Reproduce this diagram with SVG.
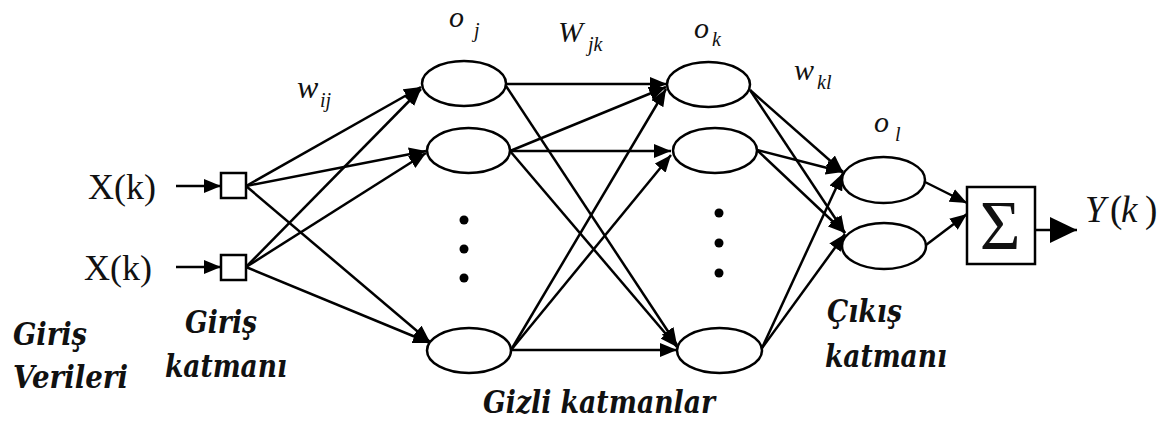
<svg xmlns="http://www.w3.org/2000/svg" width="1164" height="425" viewBox="0 0 1164 425">
<style>
.n{fill:#fff;stroke:#000;stroke-width:2.5}
.c line{stroke:#000;stroke-width:2.5;marker-end:url(#ah)}
.t{font-family:"Liberation Serif","Times New Roman",serif;fill:#111}
.i{font-style:italic}
.bi{font-family:"DejaVu Serif","Liberation Serif",serif;font-style:italic;font-weight:bold;font-size:32px;fill:#111}
.dot{fill:#000}
</style>
<defs>
<marker id="ah" markerUnits="userSpaceOnUse" markerWidth="18" markerHeight="14" refX="17" refY="7" orient="auto">
<path d="M0,0 L17,7 L0,14 z" fill="#000"/>
</marker>
<marker id="big" markerUnits="userSpaceOnUse" markerWidth="28" markerHeight="28" refX="27" refY="13" orient="auto">
<path d="M0,0 L27,13 L0,26 z" fill="#000"/>
</marker>
</defs>
<rect width="1164" height="425" fill="#fff"/>
<g id="connectors" class="c">
<line x1="176" y1="186" x2="221" y2="186"/>
<line x1="176" y1="267" x2="221" y2="267"/>
<line x1="246" y1="186" x2="421" y2="87"/>
<line x1="246" y1="186" x2="426" y2="151"/>
<line x1="246" y1="186" x2="430" y2="342"/>
<line x1="246" y1="267" x2="421" y2="89"/>
<line x1="246" y1="267" x2="426" y2="153"/>
<line x1="246" y1="267" x2="430" y2="343"/>
<line x1="506" y1="84" x2="667" y2="84"/>
<line x1="506" y1="86" x2="677" y2="345"/>
<line x1="510" y1="151" x2="666" y2="87"/>
<line x1="510" y1="151" x2="671" y2="151"/>
<line x1="510" y1="151" x2="677" y2="347"/>
<line x1="511" y1="350" x2="666" y2="89"/>
<line x1="511" y1="350" x2="671" y2="155"/>
<line x1="511" y1="350" x2="677" y2="350"/>
<line x1="750" y1="90" x2="843" y2="172"/>
<line x1="750" y1="90" x2="845" y2="233"/>
<line x1="757" y1="150" x2="843" y2="172"/>
<line x1="757" y1="150" x2="845" y2="233"/>
<line x1="762" y1="348" x2="843" y2="173"/>
<line x1="762" y1="348" x2="845" y2="234"/>
<line x1="925" y1="182" x2="967" y2="203"/>
<line x1="926" y1="245" x2="967" y2="214"/>
<line x1="1032" y1="230" x2="1077" y2="230" style="marker-end:url(#big)"/>
</g>
<g id="in1"><rect class="n" x="221" y="173" width="25" height="25"/></g>
<g id="in2"><rect class="n" x="221" y="255" width="25" height="25"/></g>
<g id="h1a"><ellipse class="n" cx="464" cy="83.5" rx="42" ry="22.5"/></g>
<g id="h1b"><ellipse class="n" cx="468.5" cy="150.5" rx="41.5" ry="22.5"/></g>
<g id="h1c"><ellipse class="n" cx="469" cy="350.5" rx="42" ry="22.5"/></g>
<g id="h1dots"><circle class="dot" cx="464" cy="220" r="4.5"/><circle class="dot" cx="464" cy="249" r="4.5"/><circle class="dot" cx="464" cy="278" r="4.5"/></g>
<g id="h2a"><ellipse class="n" cx="708.5" cy="84.5" rx="41.5" ry="22.5"/></g>
<g id="h2b"><ellipse class="n" cx="715" cy="150.5" rx="42" ry="22.5"/></g>
<g id="h2c"><ellipse class="n" cx="719.5" cy="350.5" rx="42.5" ry="22.5"/></g>
<g id="h2dots"><circle class="dot" cx="719" cy="213" r="4.5"/><circle class="dot" cx="719" cy="243" r="4.5"/><circle class="dot" cx="719" cy="273" r="4.5"/></g>
<g id="o1"><ellipse class="n" cx="883.5" cy="180" rx="41.5" ry="23"/></g>
<g id="o2"><ellipse class="n" cx="884" cy="246" rx="42" ry="23"/></g>
<g id="sum"><rect class="n" x="967" y="187" width="68" height="77" stroke-width="3"/>
<text class="t" x="1000" y="249" font-size="70" text-anchor="middle">Σ</text></g>
<g id="labels">
<text class="t" x="88" y="199" font-size="36">X(k)</text>
<text class="t" x="84" y="280" font-size="36">X(k)</text>
<text class="t i" x="297" y="98" font-size="32">w</text>
<text class="t i" x="320" y="107" font-size="20">ij</text>
<text class="t i" x="449" y="27" font-size="30">o</text>
<text class="t i" x="474" y="37" font-size="20">j</text>
<text class="t i" x="558" y="42" font-size="30">W</text>
<text class="t i" x="588" y="51" font-size="20">jk</text>
<text class="t i" x="694" y="38" font-size="30">o</text>
<text class="t i" x="712" y="46" font-size="20">k</text>
<text class="t i" x="794" y="80" font-size="30">w</text>
<text class="t i" x="817" y="89" font-size="20">kl</text>
<text class="t i" x="874" y="132" font-size="30">o</text>
<text class="t i" x="895" y="141" font-size="20">l</text>
<text class="t i" y="222" font-size="37"><tspan x="1085">Y</tspan><tspan x="1110" font-style="normal">(</tspan><tspan x="1121">k</tspan><tspan x="1145" font-style="normal">)</tspan></text>
<text class="bi" x="13" y="345" textLength="74" lengthAdjust="spacingAndGlyphs">Giriş</text>
<text class="bi" x="13" y="388" textLength="115" lengthAdjust="spacingAndGlyphs">Verileri</text>
<text class="bi" x="185" y="333" textLength="72" lengthAdjust="spacingAndGlyphs">Giriş</text>
<text class="bi" x="165" y="377" textLength="122" lengthAdjust="spacingAndGlyphs">katmanı</text>
<text class="bi" x="483" y="413" textLength="232" lengthAdjust="spacingAndGlyphs">Gizli katmanlar</text>
<text class="bi" x="827" y="322" textLength="75" lengthAdjust="spacingAndGlyphs">Çıkış</text>
<text class="bi" x="825" y="367" textLength="122" lengthAdjust="spacingAndGlyphs">katmanı</text>
</g>
</svg>
